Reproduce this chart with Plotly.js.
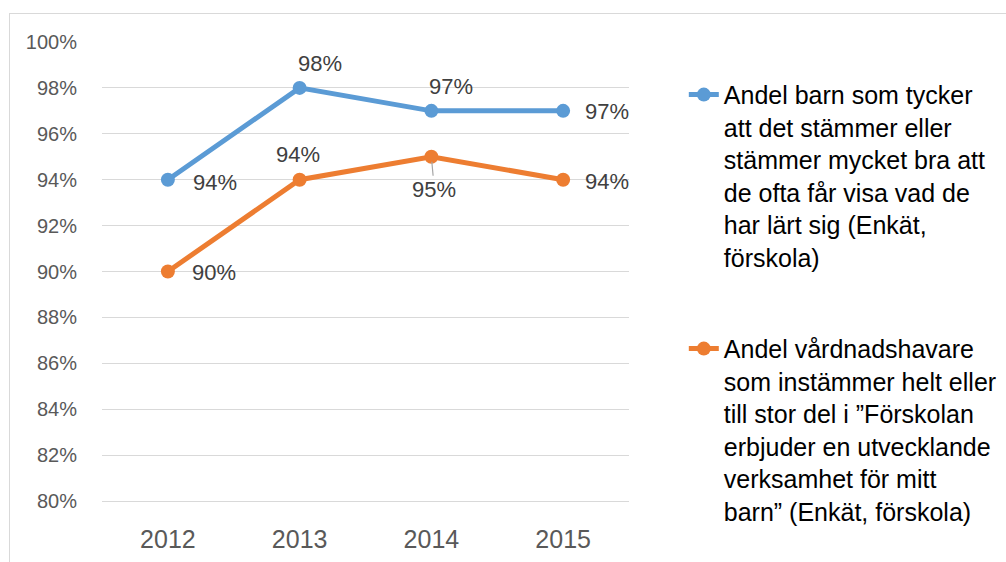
<!DOCTYPE html>
<html>
<head>
<meta charset="utf-8">
<script src="https://cdn.plot.ly/plotly-3.0.1.min.js"></script>
<style>
  html, body { margin: 0; padding: 0; background: #ffffff; }
  #frame { position: absolute; left: 9px; top: 13px; width: 1100px; height: 700px; border: 1.5px solid #d9d9d9; box-sizing: border-box; }
  #chart { position: absolute; left: 0; top: 0; width: 1006px; height: 562px; }
</style>
</head>
<body>
<div id="frame"></div>
<div id="chart"></div>
<script>
// ---- data ----
const years = ['2012', '2013', '2014', '2015'];
const barnValues = [0.94, 0.98, 0.97, 0.97];
const vhValues = [0.90, 0.94, 0.95, 0.94];
const barnName = 'Andel barn som tycker<br>att det stämmer eller<br>stämmer mycket bra att<br>de ofta får visa vad de<br>har lärt sig (Enkät,<br>förskola)';
const vhName = 'Andel vårdnadshavare<br>som instämmer helt eller<br>till stor del i ”Förskolan<br>erbjuder en utvecklande<br>verksamhet för mitt<br>barn” (Enkät, förskola)';

// ---- styles ----
const BLUE = '#5b9bd5';
const ORANGE = '#ed7d31';
const FONT = 'Liberation Sans, Arial, sans-serif';
// label offsets (pixels) per point: [xshift, yshift]
const barnLabelOffsets = [[47, -3], [20, 24], [20, 24], [44, -1]];
const vhLabelOffsets = [[46, -1], [-2, 25], [3, -33], [44, -2]];

const traces = [
  {
    x: years, y: barnValues, name: barnName, type: 'scatter', mode: 'lines+markers',
    line: { color: BLUE, width: 5 }, marker: { color: BLUE, size: 14 },
    legendgroup: 'a', hoverinfo: 'skip'
  },
  {
    x: years, y: vhValues, name: vhName, type: 'scatter', mode: 'lines+markers',
    line: { color: ORANGE, width: 5 }, marker: { color: ORANGE, size: 14 },
    legendgroup: 'b', hoverinfo: 'skip'
  }
];

function pct(v) { return Math.round(v * 100) + '%'; }

const annotations = [];
function addLabels(values, offsets) {
  values.forEach(function (v, i) {
    const off = offsets[i];
    const leader = off[1] < -30;
    const a = {
      x: i, y: v, xref: 'x', yref: 'y', text: pct(v),
      font: { family: FONT, size: 22, color: '#404040' }
    };
    if (leader) {
      a.showarrow = true; a.arrowhead = 0; a.arrowwidth = 1.2; a.arrowcolor = '#a6a6a6';
      a.ax = off[0]; a.ay = -off[1]; a.standoff = 5;
    } else {
      a.showarrow = false; a.xshift = off[0]; a.yshift = off[1];
    }
    annotations.push(a);
  });
}
addLabels(barnValues, barnLabelOffsets);
addLabels(vhValues, vhLabelOffsets);

const layout = {
  width: 1006, height: 562,
  margin: { l: 102, r: 377, t: 42, b: 61, autoexpand: false },
  paper_bgcolor: 'rgba(0,0,0,0)', plot_bgcolor: 'rgba(0,0,0,0)',
  font: { family: FONT },
  showlegend: true,
  legend: {
    x: 1.104, xanchor: 'left', y: 0.935, yanchor: 'top',
    font: { family: FONT, size: 25, color: '#000000' },
    valign: 'top', tracegroupgap: 56, itemwidth: 30,
    bgcolor: 'rgba(0,0,0,0)'
  },
  xaxis: {
    type: 'category', range: [-0.5, 3.5],
    showgrid: false, zeroline: false,
    showline: true, linecolor: '#d9d9d9', linewidth: 1,
    ticks: 'outside', ticklen: 16, tickcolor: 'rgba(0,0,0,0)',
    tickfont: { family: FONT, size: 25, color: '#595959' }
  },
  yaxis: {
    range: [0.80, 1.00], dtick: 0.02, tick0: 0.80, tickformat: '.0%',
    showgrid: true, gridcolor: '#d9d9d9', gridwidth: 1,
    zeroline: false, showline: false,
    ticks: 'outside', ticklen: 20, tickcolor: 'rgba(0,0,0,0)',
    tickfont: { family: FONT, size: 20, color: '#595959' }
  },
  annotations: annotations
};

Plotly.newPlot('chart', traces, layout, { displayModeBar: false, staticPlot: true });
</script>
</body>
</html>
